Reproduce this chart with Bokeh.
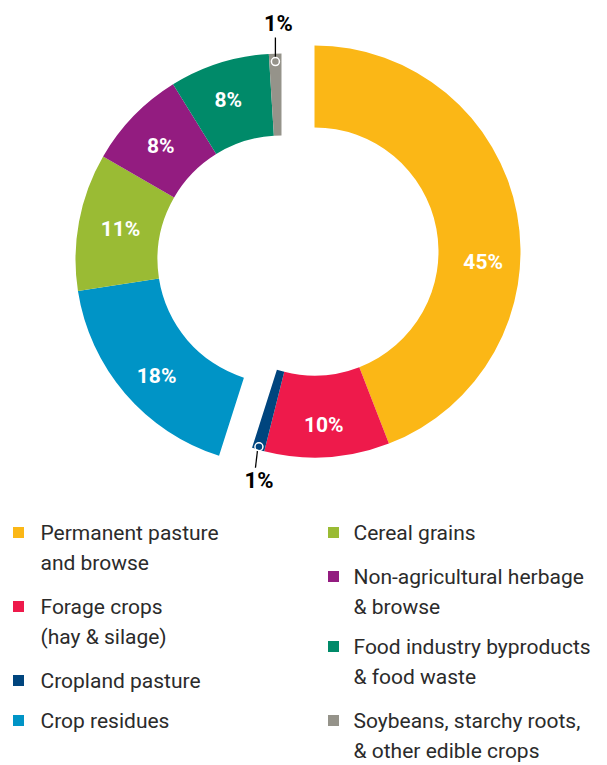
import numpy as np
from bokeh.plotting import figure
from bokeh.models import Range1d, ColumnDataSource
from bokeh.core.properties import value
from bokeh.embed import file_html
from bokeh.resources import INLINE

# ---------------- data ----------------
categories = [
    "Permanent pasture and browse",
    "Forage crops (hay & silage)",
    "Cropland pasture",
    "Crop residues",
    "Cereal grains",
    "Non-agricultural herbage & browse",
    "Food industry byproducts & food waste",
    "Soybeans, starchy roots, & other edible crops",
]
shares = [45, 10, 1, 18, 11, 8, 8, 1]
groups = [0, 0, 0, 1, 1, 1, 1, 1]
colors = ["#FBB716", "#EE1A4B", "#00457E", "#0094C6",
          "#9ABB34", "#931C80", "#008A69", "#95938A"]
legend_lines = [
    ["Permanent pasture", "and browse"],
    ["Forage crops", "(hay & silage)"],
    ["Cropland pasture"],
    ["Crop residues"],
    ["Cereal grains"],
    ["Non-agricultural herbage", "& browse"],
    ["Food industry byproducts", "& food waste"],
    ["Soybeans, starchy roots,", "& other edible crops"],
]

# ---------------- layout (pixels of the 607x765 page) ----------------
W, H = 607, 765
FONT = "Roboto"
centers = [(314, 251), (281, 259)]   # each exploded group has its own centre
R_OUT, R_IN = 206, 124
label_nudge = [14.3, 0.5, 0, -2.5, 0.3, -0.8, -0.8, 0]     # degrees
label_r = [169, 174, 0, 171, 164, 166, 168, 0]
legend_sq_x = [18, 333]
legend_txt_x = [40, 353]
legend_rows_left = [532, 606, 680, 720]
legend_rows_right = [532, 576, 646, 720]
line_gap = 30

p = figure(width=W, height=H, output_backend="svg", toolbar_location=None,
           x_range=Range1d(0, W), y_range=Range1d(0, H),
           x_axis_type=None, y_axis_type=None, min_border=0,
           background_fill_color="white", border_fill_color="white")
p.outline_line_color = None
p.grid.visible = False

total = float(sum(shares))
cum = np.concatenate([[0], np.cumsum(shares)]) / total * 360.0
th0, th1 = cum[:-1], cum[1:]
cx = np.array([centers[g][0] for g in groups], dtype=float)
cy = np.array([centers[g][1] for g in groups], dtype=float)

src = ColumnDataSource(dict(
    x=cx, y=H - cy,
    start=np.radians(90 - th0), end=np.radians(90 - th1),
    color=colors, name=categories))
p.annular_wedge(x="x", y="y", inner_radius=R_IN, outer_radius=R_OUT,
                start_angle="start", end_angle="end", direction="clock",
                fill_color="color", line_color=None, source=src)

# labels inside slices
lx, ly, lt = [], [], []
for i, s in enumerate(shares):
    if s < 5:
        continue
    mid = np.radians((th0[i] + th1[i]) / 2 + label_nudge[i])
    lx.append(cx[i] + label_r[i] * np.sin(mid))
    ly.append(H - (cy[i] - label_r[i] * np.cos(mid)))
    lt.append(f"{s}%")
p.text(x=lx, y=ly, text=lt, text_color="white", text_font=value(FONT),
       text_font_style="bold", text_font_size="21px",
       text_align="center", text_baseline="middle")

# small slices: marker circle, leader line and outside label
small_r = {2: 203, 7: 198}
leader = {2: ((-1.5, 4), (-3.5, 21), (0, 34)),   # (line start, line end, text centre) relative to marker
          7: ((0, -4), (0, -24), (3, -38))}
for i, r in small_r.items():
    mid = np.radians((th0[i] + th1[i]) / 2)
    mx = cx[i] + r * np.sin(mid)
    my = cy[i] - r * np.cos(mid)
    (a, b), (c, d), (e, f) = leader[i]
    p.line([mx + a, mx + c], [H - (my + b), H - (my + d)], line_color="black", line_width=1.3)
    p.scatter([mx], [H - my], size=8, marker="circle", fill_color=None,
              line_color="white", line_width=1.5)
    p.text(x=[mx + e], y=[H - (my + f)], text=[f"{shares[i]}%"], text_color="black",
           text_font=value(FONT), text_font_style="bold", text_font_size="22px",
           text_align="center", text_baseline="middle")

# legend
for i, lines in enumerate(legend_lines):
    col = 0 if i < 4 else 1
    yc = (legend_rows_left if col == 0 else legend_rows_right)[i % 4]
    p.rect(x=[legend_sq_x[col]], y=[H - yc], width=11, height=11,
           fill_color=colors[i], line_color=None)
    for k, t in enumerate(lines):
        p.text(x=[legend_txt_x[col]], y=[H - (yc + k * line_gap)], text=[t],
               text_color="#2b2b2b", text_font=value(FONT), text_font_size="21px",
               text_align="left", text_baseline="middle")

open("out.html", "w").write(file_html(p, INLINE))
